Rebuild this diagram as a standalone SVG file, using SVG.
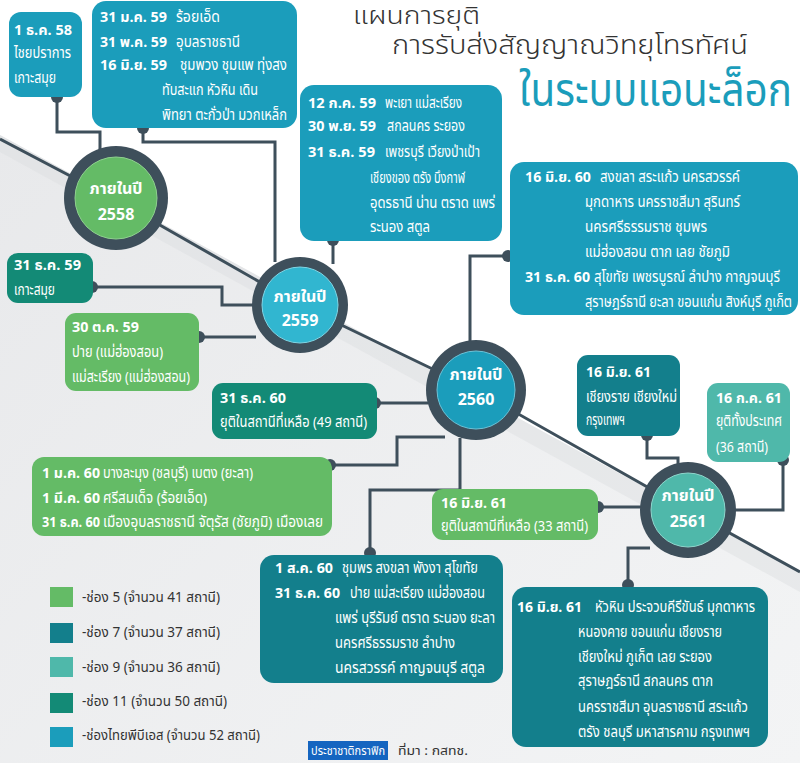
<svg xmlns="http://www.w3.org/2000/svg" width="800" height="763" viewBox="0 0 800 763">
<defs>
<linearGradient id="bg" x1="0" y1="0" x2="1" y2="1">
<stop offset="0" stop-color="#e7e8ea"/>
<stop offset="1" stop-color="#f3f4f5"/>
</linearGradient>
<style>
text{font-family:"Noto Sans Thai","Noto Sans Thai Looped","Loma","Garuda","Tlwg Typo","Noto Sans","DejaVu Sans",sans-serif;}
.w{fill:#fff;font-size:15px;}
.b{font-weight:bold;font-size:14px;}
.tp{fill:#1b9dbb;}
.c7{fill:#137f8c;}
.c11{fill:#138a76;}
.c5{fill:#64bb66;}
.c9{fill:#4fb8aa;}
.ln{fill:none;stroke:#3e4f5b;stroke-width:3;}
.dot{fill:#3e4f5b;}
.ring{fill:#3e4f5b;}
.yr{fill:#fff;font-size:16px;font-weight:bold;text-anchor:middle;}
.lg{fill:#333;font-size:14px;}
</style>
</defs>
<rect width="800" height="763" fill="url(#bg)"/>
<polygon points="0,0 800,0 800,572 0,135" fill="#ffffff"/>
<polygon points="0,135 800,572 800,592 0,152" fill="#dcdee1" opacity="0.45"/>

<g id="title">
<text x="353" y="24" font-size="25" fill="#333" font-weight="300" textLength="127" lengthAdjust="spacingAndGlyphs">แผนการยุติ</text>
<text x="392" y="54" font-size="26" fill="#333" font-weight="300" textLength="356" lengthAdjust="spacingAndGlyphs">การรับส่งสัญญาณวิทยุโทรทัศน์</text>
<text x="519" y="106" font-size="46" fill="#1b9dbb" textLength="273" lengthAdjust="spacingAndGlyphs">ในระบบแอนะล็อก</text>
</g>

<g id="connectors">
<polyline class="ln" stroke-width="4" points="0,139 116,200 300,305 476,390 688,510 800,572"/>
<polyline class="ln" points="57,97 57,132 100,132 100,152"/>
<polyline class="ln" points="143,128 143,142 275,142 275,262"/>
<polyline class="ln" points="333,240 333,264"/>
<polyline class="ln" points="92,287 222,287 222,305 256,305"/>
<polyline class="ln" points="199,337 256,337"/>
<polyline class="ln" points="375,403 428,403"/>
<polyline class="ln" points="508,256 470,256 470,342"/>
<polyline class="ln" points="330,465 397,465 397,437 445,437"/>
<polyline class="ln" points="370,553 370,490 460,490 460,438"/>
<polyline class="ln" points="598,507 642,507"/>
<polyline class="ln" points="647,435 647,458 678,458 678,466"/>
<polyline class="ln" points="783,460 783,510 734,510"/>
<polyline class="ln" points="628,585 628,548 650,548"/>
<circle class="dot" cx="57" cy="97" r="6"/>
<circle class="dot" cx="143" cy="128" r="6"/>
<circle class="dot" cx="333" cy="240" r="6"/>
<circle class="dot" cx="92" cy="287" r="6"/>
<circle class="dot" cx="199" cy="337" r="6"/>
<circle class="dot" cx="375" cy="403" r="6"/>
<circle class="dot" cx="508" cy="256" r="6"/>
<circle class="dot" cx="330" cy="465" r="6"/>
<circle class="dot" cx="370" cy="553" r="6"/>
<circle class="dot" cx="598" cy="507" r="6"/>
<circle class="dot" cx="647" cy="435" r="6"/>
<circle class="dot" cx="783" cy="460" r="6"/>
<circle class="dot" cx="628" cy="585" r="6"/>
</g>

<g id="y2558">
<circle class="ring" cx="116" cy="198" r="52"/>
<circle cx="116" cy="198" r="41" fill="#64bb66" stroke="#8fd18f" stroke-width="1"/>
<text class="yr" x="116" y="194">ภายในปี</text>
<text class="yr" x="116" y="220">2558</text>
</g>
<g id="y2559">
<circle class="ring" cx="300" cy="305" r="48"/>
<circle cx="300" cy="305" r="38" fill="#31b6d0" stroke="#7fd6e6" stroke-width="1"/>
<text class="yr" x="300" y="302">ภายในปี</text>
<text class="yr" x="300" y="326">2559</text>
</g>
<g id="y2560">
<circle class="ring" cx="476" cy="390" r="50"/>
<circle cx="476" cy="390" r="39" fill="#1b9dbb" stroke="#6cc3d8" stroke-width="1"/>
<text class="yr" x="476" y="380">ภายในปี</text>
<text class="yr" x="476" y="405">2560</text>
</g>
<g id="y2561">
<circle class="ring" cx="688" cy="510" r="48"/>
<circle cx="688" cy="510" r="37" fill="#4fb8aa" stroke="#8ed6cc" stroke-width="1"/>
<text class="yr" x="688" y="501">ภายในปี</text>
<text class="yr" x="688" y="527">2561</text>
</g>

<g id="boxA">
<rect class="tp" x="9" y="12" width="73" height="85" rx="12"/>
<text class="w b" x="14" y="35" textLength="58" lengthAdjust="spacingAndGlyphs">1 ธ.ค. 58</text>
<text class="w" x="14" y="58" textLength="57" lengthAdjust="spacingAndGlyphs">ไชยปราการ</text>
<text class="w" x="14" y="83" textLength="42" lengthAdjust="spacingAndGlyphs">เกาะสมุย</text>
</g>
<g id="boxB">
<rect class="tp" x="92" y="1" width="205" height="127" rx="14"/>
<text class="w b" x="100" y="22" textLength="67" lengthAdjust="spacingAndGlyphs">31 ม.ค. 59</text><text class="w" x="176" y="22" textLength="44" lengthAdjust="spacingAndGlyphs">ร้อยเอ็ด</text>
<text class="w b" x="100" y="47" textLength="67" lengthAdjust="spacingAndGlyphs">31 พ.ค. 59</text><text class="w" x="176" y="47" textLength="64" lengthAdjust="spacingAndGlyphs">อุบลราชธานี</text>
<text class="w b" x="100" y="70" textLength="67" lengthAdjust="spacingAndGlyphs">16 มิ.ย. 59</text><text class="w" x="180" y="70" textLength="107" lengthAdjust="spacingAndGlyphs">ชุมพวง ชุมแพ ทุ่งสง</text>
<text class="w" x="162" y="95" textLength="96" lengthAdjust="spacingAndGlyphs">ทับสะแก หัวหิน เดิน</text>
<text class="w" x="162" y="120" textLength="125" lengthAdjust="spacingAndGlyphs">พิทยา ตะกั่วป่า มวกเหล็ก</text>
</g>
<g id="boxC">
<rect class="tp" x="300" y="85" width="202" height="156" rx="14"/>
<text class="w b" x="308" y="108" textLength="68" lengthAdjust="spacingAndGlyphs">12 ก.ค. 59</text><text class="w" x="385" y="108" textLength="77" lengthAdjust="spacingAndGlyphs">พะเยา แม่สะเรียง</text>
<text class="w b" x="308" y="131" textLength="68" lengthAdjust="spacingAndGlyphs">30 พ.ย. 59</text><text class="w" x="387" y="131" textLength="78" lengthAdjust="spacingAndGlyphs">สกลนคร ระยอง</text>
<text class="w b" x="308" y="157" textLength="67" lengthAdjust="spacingAndGlyphs">31 ธ.ค. 59</text><text class="w" x="385" y="157" textLength="95" lengthAdjust="spacingAndGlyphs">เพชรบุรี เวียงป่าเป้า</text>
<text class="w" x="370" y="183" textLength="95" lengthAdjust="spacingAndGlyphs">เชียงของ ตรัง บึงกาฬ</text>
<text class="w" x="370" y="208" textLength="125" lengthAdjust="spacingAndGlyphs">อุดรธานี น่าน ตราด แพร่</text>
<text class="w" x="370" y="232" textLength="60" lengthAdjust="spacingAndGlyphs">ระนอง สตูล</text>
</g>
<g id="boxD">
<rect class="tp" x="510" y="162" width="288" height="153" rx="14"/>
<text class="w b" x="525" y="182" textLength="66" lengthAdjust="spacingAndGlyphs">16 มิ.ย. 60</text><text class="w" x="600" y="182" textLength="140" lengthAdjust="spacingAndGlyphs">สงขลา สระแก้ว นครสวรรค์</text>
<text class="w" x="585" y="207" textLength="155" lengthAdjust="spacingAndGlyphs">มุกดาหาร นครราชสีมา สุรินทร์</text>
<text class="w" x="585" y="232" textLength="122" lengthAdjust="spacingAndGlyphs">นครศรีธรรมราช ชุมพร</text>
<text class="w" x="585" y="257" textLength="145" lengthAdjust="spacingAndGlyphs">แม่ฮ่องสอน ตาก เลย ชัยภูมิ</text>
<text class="w b" x="525" y="282" textLength="65" lengthAdjust="spacingAndGlyphs">31 ธ.ค. 60</text><text class="w" x="594" y="282" font-size="13" textLength="186" lengthAdjust="spacingAndGlyphs">สุโขทัย เพชรบูรณ์ ลำปาง กาญจนบุรี</text>
<text class="w" x="585" y="307" font-size="13" textLength="207" lengthAdjust="spacingAndGlyphs">สุราษฎร์ธานี ยะลา ขอนแก่น สิงห์บุรี ภูเก็ต</text>
</g>
<g id="boxE">
<rect class="c11" x="7" y="253" width="86" height="50" rx="11"/>
<text class="w b" x="14" y="270" textLength="67" lengthAdjust="spacingAndGlyphs">31 ธ.ค. 59</text>
<text class="w" x="14" y="295" textLength="41" lengthAdjust="spacingAndGlyphs">เกาะสมุย</text>
</g>
<g id="boxF">
<rect class="c5" x="65" y="313" width="134" height="78" rx="11"/>
<text class="w b" x="72" y="332" textLength="67" lengthAdjust="spacingAndGlyphs">30 ต.ค. 59</text>
<text class="w" x="72" y="357" textLength="91" lengthAdjust="spacingAndGlyphs">ปาย (แม่ฮ่องสอน)</text>
<text class="w" x="72" y="382" textLength="118" lengthAdjust="spacingAndGlyphs">แม่สะเรียง (แม่ฮ่องสอน)</text>
</g>
<g id="boxG">
<rect class="c11" x="212" y="383" width="165" height="56" rx="11"/>
<text class="w b" x="220" y="403" textLength="66" lengthAdjust="spacingAndGlyphs">31 ธ.ค. 60</text>
<text class="w" x="220" y="427" textLength="147" lengthAdjust="spacingAndGlyphs">ยุติในสถานีที่เหลือ (49 สถานี)</text>
</g>
<g id="boxH">
<rect class="c5" x="32" y="457" width="300" height="79" rx="12"/>
<text class="w b" x="42" y="478" textLength="58" lengthAdjust="spacingAndGlyphs">1 ม.ค. 60</text><text class="w" x="103" y="478" textLength="150" lengthAdjust="spacingAndGlyphs">บางละมุง (ชลบุรี) เบตง (ยะลา)</text>
<text class="w b" x="42" y="503" textLength="58" lengthAdjust="spacingAndGlyphs">1 มี.ค. 60</text><text class="w" x="103" y="503" textLength="104" lengthAdjust="spacingAndGlyphs">ศรีสมเด็จ (ร้อยเอ็ด)</text>
<text class="w b" x="42" y="527" textLength="58" lengthAdjust="spacingAndGlyphs">31 ธ.ค. 60</text><text class="w" x="103" y="527" textLength="220" lengthAdjust="spacingAndGlyphs">เมืองอุบลราชธานี จัตุรัส (ชัยภูมิ) เมืองเลย</text>
</g>
<g id="boxJ">
<rect class="c5" x="432" y="489" width="166" height="51" rx="11"/>
<text class="w b" x="441" y="508" textLength="66" lengthAdjust="spacingAndGlyphs">16 มิ.ย. 61</text>
<text class="w" x="441" y="531" textLength="147" lengthAdjust="spacingAndGlyphs">ยุติในสถานีที่เหลือ (33 สถานี)</text>
</g>
<g id="boxI">
<rect class="c7" x="260" y="555" width="243" height="128" rx="14"/>
<text class="w b" x="275" y="573" textLength="58" lengthAdjust="spacingAndGlyphs">1 ส.ค. 60</text><text class="w" x="342" y="573" textLength="136" lengthAdjust="spacingAndGlyphs">ชุมพร สงขลา พังงา สุโขทัย</text>
<text class="w b" x="275" y="598" textLength="65" lengthAdjust="spacingAndGlyphs">31 ธ.ค. 60</text><text class="w" x="350" y="598" textLength="135" lengthAdjust="spacingAndGlyphs">ปาย แม่สะเรียง แม่ฮ่องสอน</text>
<text class="w" x="335" y="623" textLength="160" lengthAdjust="spacingAndGlyphs">แพร่ บุรีรัมย์ ตราด ระนอง ยะลา</text>
<text class="w" x="335" y="648" textLength="120" lengthAdjust="spacingAndGlyphs">นครศรีธรรมราช ลำปาง</text>
<text class="w" x="335" y="673" textLength="150" lengthAdjust="spacingAndGlyphs">นครสวรรค์ กาญจนบุรี สตูล</text>
</g>
<g id="boxK">
<rect class="c7" x="512" y="587" width="256" height="160" rx="14"/>
<text class="w b" x="517" y="612" textLength="65" lengthAdjust="spacingAndGlyphs">16 มิ.ย. 61</text><text class="w" x="595" y="612" textLength="160" lengthAdjust="spacingAndGlyphs">หัวหิน ประจวบคีรีขันธ์ มุกดาหาร</text>
<text class="w" x="578" y="637" textLength="144" lengthAdjust="spacingAndGlyphs">หนองคาย ขอนแก่น เชียงราย</text>
<text class="w" x="578" y="662" textLength="134" lengthAdjust="spacingAndGlyphs">เชียงใหม่ ภูเก็ต เลย ระยอง</text>
<text class="w" x="578" y="686" textLength="135" lengthAdjust="spacingAndGlyphs">สุราษฎร์ธานี สกลนคร ตาก</text>
<text class="w" x="578" y="712" textLength="170" lengthAdjust="spacingAndGlyphs">นครราชสีมา อุบลราชธานี สระแก้ว</text>
<text class="w" x="578" y="737" textLength="172" lengthAdjust="spacingAndGlyphs">ตรัง ชลบุรี มหาสารคาม กรุงเทพฯ</text>
</g>
<g id="boxL">
<rect class="c7" x="577" y="355" width="103" height="81" rx="11"/>
<text class="w b" x="586" y="377" textLength="65" lengthAdjust="spacingAndGlyphs">16 มิ.ย. 61</text>
<text class="w" x="586" y="402" textLength="91" lengthAdjust="spacingAndGlyphs">เชียงราย เชียงใหม่</text>
<text class="w" x="586" y="425" textLength="39" lengthAdjust="spacingAndGlyphs">กรุงเทพฯ</text>
</g>
<g id="boxM">
<rect class="c9" x="707" y="383" width="83" height="79" rx="11"/>
<text class="w b" x="716" y="403" textLength="66" lengthAdjust="spacingAndGlyphs">16 ก.ค. 61</text>
<text class="w" x="716" y="426" textLength="66" lengthAdjust="spacingAndGlyphs">ยุติทั้งประเทศ</text>
<text class="w" x="716" y="452" textLength="52" lengthAdjust="spacingAndGlyphs">(36 สถานี)</text>
</g>

<g id="legend">
<rect class="c5" x="50" y="587" width="23" height="20"/>
<text class="lg" x="82" y="602" textLength="138" lengthAdjust="spacingAndGlyphs">-ช่อง 5 (จำนวน 41 สถานี)</text>
<rect class="c7" x="50" y="623" width="23" height="20"/>
<text class="lg" x="82" y="637" textLength="138" lengthAdjust="spacingAndGlyphs">-ช่อง 7 (จำนวน 37 สถานี)</text>
<rect class="c9" x="50" y="657" width="23" height="20"/>
<text class="lg" x="82" y="672" textLength="138" lengthAdjust="spacingAndGlyphs">-ช่อง 9 (จำนวน 36 สถานี)</text>
<rect class="c11" x="50" y="693" width="23" height="20"/>
<text class="lg" x="82" y="706" textLength="145" lengthAdjust="spacingAndGlyphs">-ช่อง 11 (จำนวน 50 สถานี)</text>
<rect class="tp" x="50" y="727" width="23" height="20"/>
<text class="lg" x="82" y="740" textLength="178" lengthAdjust="spacingAndGlyphs">-ช่องไทยพีบีเอส (จำนวน 52 สถานี)</text>
</g>

<g id="footer">
<rect x="308" y="741" width="80" height="19" fill="#1565c0"/>
<text x="348" y="755" fill="#fff" font-size="12" text-anchor="middle" textLength="74" lengthAdjust="spacingAndGlyphs">ประชาชาติกราฟิก</text>
<text x="398" y="755" fill="#333" font-size="12" textLength="70" lengthAdjust="spacingAndGlyphs">ที่มา : กสทช.</text>
</g>
</svg>
